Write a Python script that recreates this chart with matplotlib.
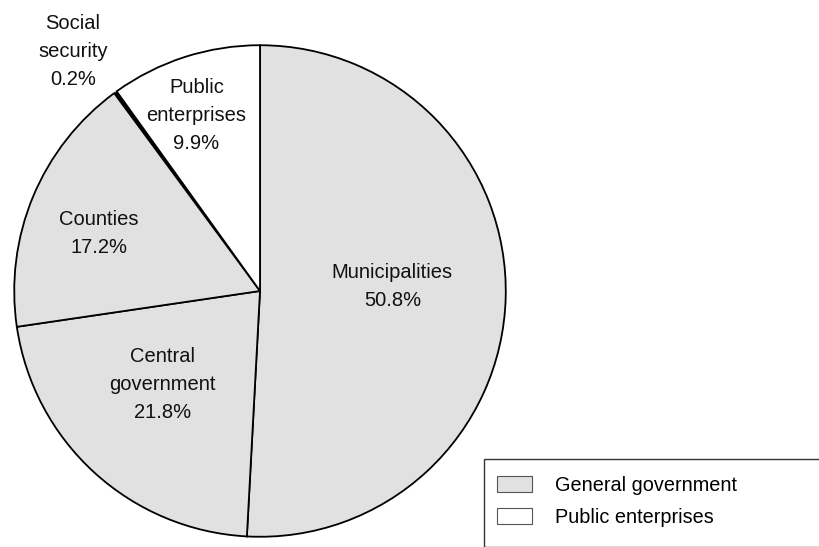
import matplotlib.pyplot as plt
from matplotlib.patches import Patch, Rectangle

# data
sectors = ['Municipalities', 'Central\ngovernment', 'Counties', 'Social\nsecurity', 'Public\nenterprises']
shares = [50.8, 21.8, 17.2, 0.2, 9.9]
groups = ['General government', 'General government', 'General government', 'General government', 'Public enterprises']
group_names = ['General government', 'Public enterprises']
group_colors = {'General government': '#e1e1e1', 'Public enterprises': '#ffffff'}

plt.rcParams['font.family'] = ['Liberation Sans', 'DejaVu Sans']

W, H = 820, 547
cx, cy, r = 260, 291, 247
# label centres in pixels, converted to pie units
label_px = [(393, 286), (162, 385), (98, 233), (72, 50), (196, 115)]
label_pos = [((x - cx) / r, (cy - y) / r) for x, y in label_px]

fig = plt.figure(figsize=(8.2, 5.47), dpi=100)
ax = fig.add_axes([(cx - r) / W, (H - cy - r) / H, 2 * r / W, 2 * r / H])

colors = [group_colors[g] for g in groups]
wedges, _ = ax.pie(shares, colors=colors, startangle=90, counterclock=False, radius=1,
                   wedgeprops=dict(edgecolor='black', linewidth=1.3))
# the 0.2% sliver shows only as a single line
wedges[3].set_facecolor('black')
wedges[3].set_linewidth(0)
ax.set_xlim(-1.005, 1.005)
ax.set_ylim(-1.005, 1.005)
ax.set_aspect('equal')
ax.axis('off')

for name, val, (x, y) in zip(sectors, shares, label_pos):
    ax.text(x, y, '%s\n%.1f%%' % (name, val), ha='center', va='center',
            fontsize=14.5, color='#111111', linespacing=1.6, clip_on=False)

# legend box (runs off the bottom/right of the image)
fig.patches.append(Rectangle((484 / W, 0), 1 - 484 / W + 0.01, (H - 459) / H,
                             transform=fig.transFigure, facecolor='white',
                             edgecolor='#333333', linewidth=1.0))
handles = [Patch(facecolor=group_colors[g], edgecolor='#555555', linewidth=0.8) for g in group_names]
fig.legend(handles, group_names, loc='upper left', bbox_to_anchor=(497 / W, 1 - 476 / H),
           frameon=False, fontsize=14.3, handlelength=1.75, handleheight=0.85,
           handletextpad=1.15, labelspacing=0.65, borderpad=0, borderaxespad=0)

plt.savefig('out.png', dpi=100)
